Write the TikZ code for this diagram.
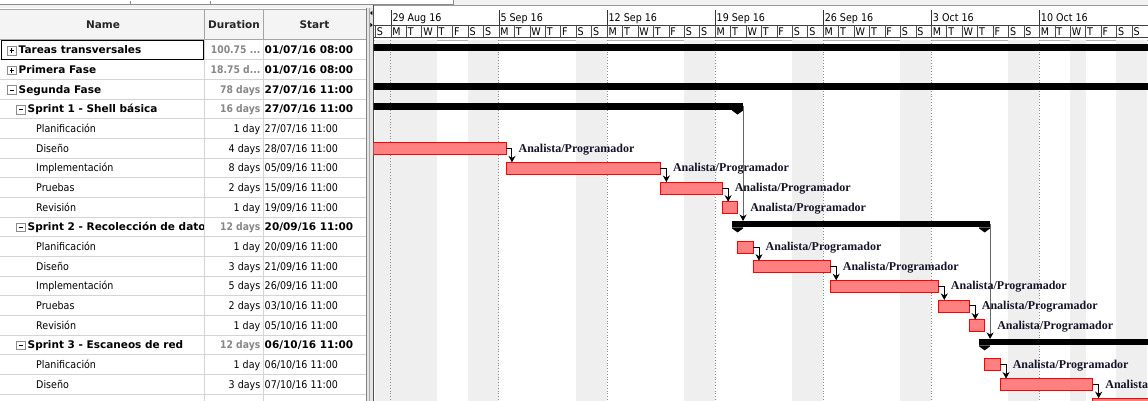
\documentclass[tikz,border=0pt]{standalone}
\usepackage{fontspec}
\usetikzlibrary{arrows.meta}
\newfontfamily\uireg{DejaVu Sans}[FakeStretch=0.9]
\newfontfamily\uibold{DejaVu Sans}
\newfontfamily\uiboldnarrow{DejaVu Sans}[FakeStretch=0.88]
\newfontfamily\barfont{Liberation Serif}
\definecolor{taskfill}{RGB}{255,128,128}
\definecolor{taskline}{RGB}{255,0,0}
\definecolor{gridline}{RGB}{212,212,212}
\definecolor{wkshade}{RGB}{239,239,239}
\definecolor{durgray}{RGB}{135,135,135}
\definecolor{headbg}{RGB}{244,244,244}
\definecolor{framegray}{RGB}{165,165,165}
\definecolor{labelink}{RGB}{20,20,40}

% Time axis: Monday 29 Aug 2016 00:00 at x = 390.8, one day = 15.44
% Rows: first task row starts at y = 40, row pitch 19.65

% leaf task row: #1 row, #2 name, #3 duration, #4 start
\newcommand\leafrow[4]{%
  \node[cell] (name#1) at (36,{54+19.65*(#1)}) {#2};
  \node[cell,anchor=base east] (dur#1) at (260.5,{54+19.65*(#1)}) {#3};
  \node[cell] (start#1) at (264.5,{54+19.65*(#1)}) {#4};
}
% summary row: #1 row, #2 x of outline box, #3 1 = collapsed, #4 name, #5 duration, #6 start
\newcommand\sumrow[6]{%
  \draw[iconbox] (#2,{40+19.65*(#1)+6.5}) rectangle ++(8.5,8.5);
  \draw[black,line width=0.8pt] ({#2+2},{40+19.65*(#1)+10.75}) -- ++(4.5,0);
  \ifnum#3=1 \draw[black,line width=0.8pt] ({#2+4.25},{40+19.65*(#1)+8.5}) -- ++(0,4.5);\fi
  \begin{scope}
    \clip (0,{40+19.65*(#1)}) rectangle (203.5,{59.65+19.65*(#1)});
    \node[cellb] (name#1) at ({#2+11},{54+19.65*(#1)}) {#4};
  \end{scope}
  \node[cellb,font=\uiboldnarrow\bfseries\fontsize{10.5}{12}\selectfont,text=durgray,anchor=base east] (dur#1) at (260.5,{54+19.65*(#1)}) {#5};
  \node[cellb] (start#1) at (264.5,{54+19.65*(#1)}) {#6};
}
% task bar: #1 row, #2 start day, #3 end day (fractional days from Mon 29 Aug)
\newcommand\taskbar[3]{%
  \node[taskbar,minimum width={15.44*((#3)-(#2))}] (bar#1)
    at ({390.8+15.44*(#2)},{40+19.65*(#1)+10.5}) {};
}
% resource label right of a task bar
\newcommand\reslab[1]{%
  \node[reslabel] (lab#1) at ([shift={(12.5,3.5)}]bar#1.east) {Analista/Programador};
}
% finish-to-start link between two task bars
\newcommand\tasklink[2]{%
  \draw[deplink] (bar#1.east) -- ++(6,0) coordinate (k#1) -- (k#1 |- bar#2.north);
}

\begin{document}
\begin{tikzpicture}[x=1pt,y=-1pt,
  cell/.style={inner sep=0pt,anchor=base west,font=\uireg\fontsize{10.6}{12}\selectfont},
  cellb/.style={cell,font=\uibold\bfseries\fontsize{10.5}{12}\selectfont},
  colhead/.style={inner sep=0pt,anchor=base,font=\uibold\bfseries\fontsize{10.5}{12}\selectfont,text=black!85},
  tscale/.style={inner sep=0pt,anchor=base west,font=\uireg\fontsize{10.6}{12}\selectfont},
  dayletter/.style={inner sep=0pt,anchor=base west,font=\uireg\fontsize{10.6}{12}\selectfont},
  iconbox/.style={draw=black!45,fill=white,line width=0.8pt},
  taskbar/.style={draw=taskline,fill=taskfill,line width=0.9pt,minimum height=12pt,inner sep=0pt,outer sep=0pt,anchor=west},
  sumbar/.style={fill=black,minimum height=6.4pt,inner sep=0pt,outer sep=0pt,anchor=north west},
  deplink/.style={draw=black,line width=1pt,-{Stealth[length=6.5pt,width=7pt,inset=2pt]}},
  sumlink/.style={draw=black!60,line width=1pt,-{Stealth[length=6.5pt,width=7pt,inset=2pt,black]}},
  reslabel/.style={inner sep=0pt,anchor=base west,font=\barfont\bfseries\fontsize{12}{14}\selectfont,text=labelink},
]
\useasboundingbox (0,0) rectangle (1148,401);
\fill[white] (0,0) rectangle (1148,401);

% ---------- strip above the columns ----------
\fill[black!5] (0,0) rectangle (1148,8.5);
\fill[white] (0,0) rectangle (453,4);
\draw[black!45] (0,4.5) -- (453,4.5) -- (453,0);
\draw[black!45] (130,1) -- (130,4.5) (210,1) -- (210,4.5);

% ---------- table ----------
\fill[headbg] (0,9) rectangle (366,39.5);
\draw[framegray] (0,9) -- (366,9);
\draw[framegray] (0,39.5) -- (366,39.5);
\draw[framegray] (204.5,9) -- (204.5,39.5) (263,9) -- (263,39.5);
\node[colhead] (hname) at (103,28.5) {Name};
\node[colhead] (hdur) at (234,28.5) {Duration};
\node[colhead] (hstart) at (314.5,28.5) {Start};

\foreach \k in {1,...,18}
  \draw[gridline] (0,{40+19.65*\k}) -- (366,{40+19.65*\k});
\draw[gridline] (204.5,40) -- (204.5,401) (263,40) -- (263,401);

\sumrow{0}{7.5}{1}{Tareas transversales}{100.75 ...}{01/07/16 08:00}
\sumrow{1}{7.5}{1}{Primera Fase}{18.75 d...}{01/07/16 08:00}
\sumrow{2}{7.5}{0}{Segunda Fase}{78 days}{27/07/16 11:00}
\sumrow{3}{16.5}{0}{Sprint 1 - Shell básica}{16 days}{27/07/16 11:00}
\leafrow{4}{Planificación}{1 day}{27/07/16 11:00}
\leafrow{5}{Diseño}{4 days}{28/07/16 11:00}
\leafrow{6}{Implementación}{8 days}{05/09/16 11:00}
\leafrow{7}{Pruebas}{2 days}{15/09/16 11:00}
\leafrow{8}{Revisión}{1 day}{19/09/16 11:00}
\sumrow{9}{16.5}{0}{Sprint 2 - Recolección de datos}{12 days}{20/09/16 11:00}
\leafrow{10}{Planificación}{1 day}{20/09/16 11:00}
\leafrow{11}{Diseño}{3 days}{21/09/16 11:00}
\leafrow{12}{Implementación}{5 days}{26/09/16 11:00}
\leafrow{13}{Pruebas}{2 days}{03/10/16 11:00}
\leafrow{14}{Revisión}{1 day}{05/10/16 11:00}
\sumrow{15}{16.5}{0}{Sprint 3 - Escaneos de red}{12 days}{06/10/16 11:00}
\leafrow{16}{Planificación}{1 day}{06/10/16 11:00}
\leafrow{17}{Diseño}{3 days}{07/10/16 11:00}

% selected cell
\draw[black,line width=1pt] (1.5,40.5) rectangle (203.5,59.2);

% ---------- splitter ----------
\fill[black!10] (366,8.5) rectangle (373,401);
\draw[black!50] (366,8.5) -- (366,401);
\draw[black!35] (369,8.5) -- (369,401);
\draw[black!70] (373,5) -- (373,401);
\fill[black] (370.2,13) -- (372.4,10.8) -- (372.4,15.2) -- cycle;
\fill[black] (372.6,25) -- (370.4,22.8) -- (370.4,27.2) -- cycle;

% ---------- chart ----------
\begin{scope}
\clip (373.5,5) rectangle (1148,401);

% time scale
\fill[white] (373.5,5) rectangle (1148,38);
\draw[black!40] (373.5,5.5) -- (1148,5.5);
\draw[black!75] (373.5,25) -- (1148,25);
\draw[black!75] (373.5,37.5) -- (1148,37.5);
\draw[black!30] (373.5,40) -- (1148,40);
\foreach \w/\txt in {0/29 Aug 16,1/5 Sep 16,2/12 Sep 16,3/19 Sep 16,4/26 Sep 16,5/3 Oct 16,6/10 Oct 16} {
  \draw[black!80] ({390.8+108.08*\w},10) -- ({390.8+108.08*\w},25);
  \node[tscale] (week\w) at ({392.3+108.08*\w},21.5) {\txt};
}
\foreach \d in {-1,...,48} {
  \pgfmathtruncatemacro\m{mod(\d+1,7)}
  \pgfmathtruncatemacro\i{\d+1}
  \draw[black!70] ({390.8+15.44*\d},25) -- ({390.8+15.44*\d},37.5);
  \node[dayletter] (day\i) at ({392.2+15.44*\d},35.8)
    {\ifcase\m S\or M\or T\or W\or T\or F\or S\fi};
}

% non-working days (weekends, late-August break, 12 Oct)
\foreach \d in {-1,0,1,2,5,6,12,13,19,20,26,27,33,34,40,41,44,47,48}
  \fill[wkshade] ({390.8+15.44*\d},40.5) rectangle ({390.8+15.44*(\d+1)},401);
% week start lines
\foreach \w in {0,...,6}
  \draw[black!45,dotted,line width=0.8pt] ({390.8+108.08*\w},40.5) -- ({390.8+108.08*\w},401);

% summary bars
\node[sumbar,minimum width=800pt] (sum0) at (360,44.2) {};
\node[sumbar,minimum width=800pt] (sum2) at (360,{40+19.65*2+4.2}) {};
\node[sumbar,minimum width={390.8+15.44*22.4583+5.5-360}] (sp1) at (360,{40+19.65*3+4.2}) {};
\node[sumbar,minimum width={15.44*16+11}] (sp2) at ({390.8+15.44*22.4583-5.5},{40+19.65*9+4.2}) {};
\node[sumbar,minimum width=200pt] (sp3) at ({390.8+15.44*38.4583-5.5},{40+19.65*15+4.2}) {};
\fill (sp1.south east) -- ++(0,1) -- ++(-5.5,4) -- ++(-5.5,-4) -- ++(0,-1) -- cycle;
\fill (sp2.south west) -- ++(0,1) -- ++(5.5,4) -- ++(5.5,-4) -- ++(0,-1) -- cycle;
\fill (sp2.south east) -- ++(0,1) -- ++(-5.5,4) -- ++(-5.5,-4) -- ++(0,-1) -- cycle;
\fill (sp3.south west) -- ++(0,1) -- ++(5.5,4) -- ++(5.5,-4) -- ++(0,-1) -- cycle;

% task bars
\taskbar{5}{-2}{7.4583}
\taskbar{6}{7.4583}{17.4583}
\taskbar{7}{17.4583}{21.4583}
\taskbar{8}{21.4583}{22.4583}
\taskbar{10}{22.4583}{23.4583}
\taskbar{11}{23.4583}{28.4583}
\taskbar{12}{28.4583}{35.4583}
\taskbar{13}{35.4583}{37.4583}
\taskbar{14}{37.4583}{38.4583}
\taskbar{16}{38.4583}{39.4583}
\taskbar{17}{39.4583}{45.4583}
\taskbar{18}{45.4583}{60}

% links
\tasklink{5}{6}
\tasklink{6}{7}
\tasklink{7}{8}
\tasklink{10}{11}
\tasklink{11}{12}
\tasklink{12}{13}
\tasklink{13}{14}
\tasklink{16}{17}
\tasklink{17}{18}
\draw[sumlink] (sp1.east) -- (sp1.east |- sp2.north);
\draw[sumlink] (sp2.east) -- (sp2.east |- sp3.north);

% resource names
\foreach \r in {5,6,7,8,10,11,12,13,14,16,17} { \reslab{\r} }
\end{scope}
\end{tikzpicture}
\end{document}
